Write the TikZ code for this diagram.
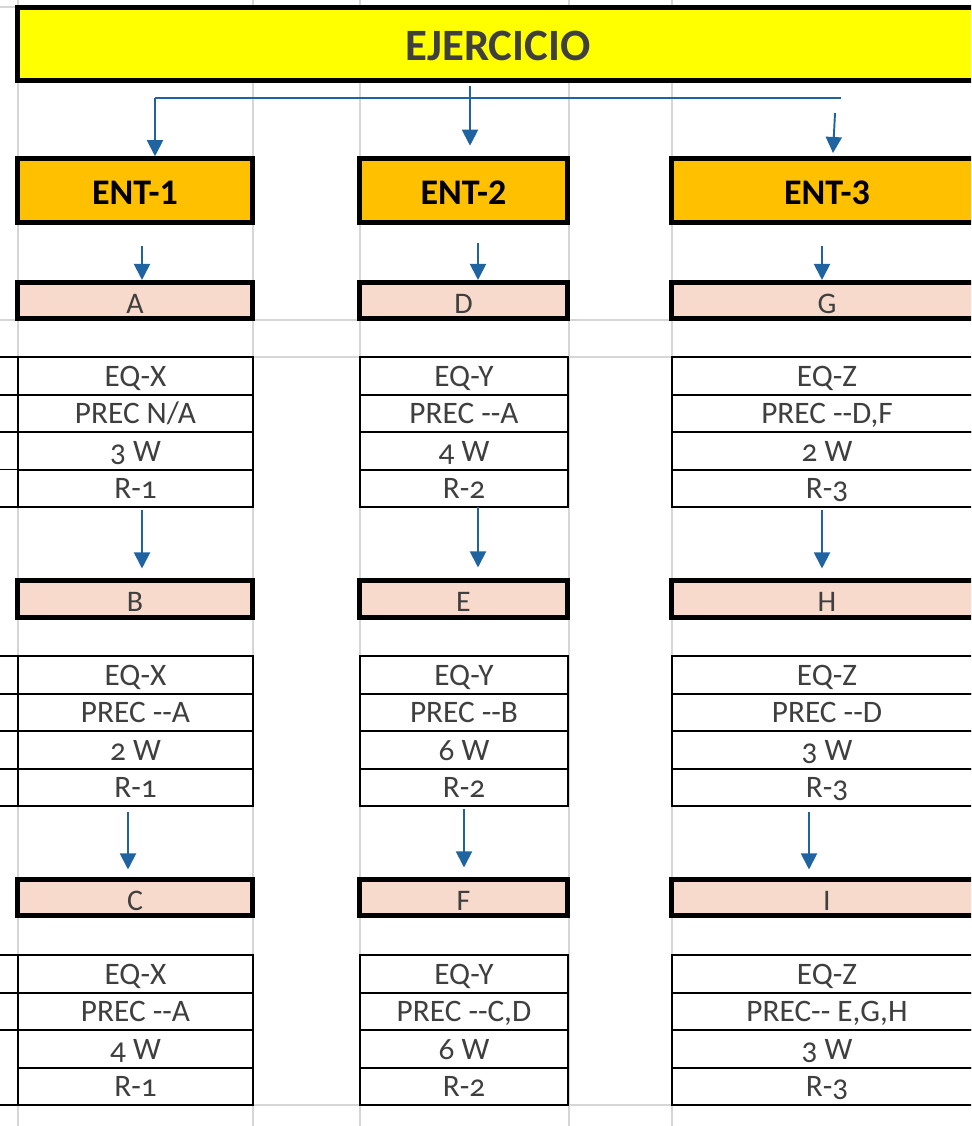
\documentclass[tikz,border=0pt]{standalone}
\usepackage{fontspec}
\setmainfont{Carlito}[Ligatures=TeXOff,Numbers=OldStyle]
\newfontfamily\entfont{Carlito}[Ligatures=TeXOff,Numbers=Lining]
\usepackage{tikz}
\usetikzlibrary{arrows.meta}
\definecolor{sunyellow}{HTML}{FFFF00}
\definecolor{entorange}{HTML}{FFC000}
\definecolor{taskpink}{HTML}{F8DACD}
\definecolor{flowblue}{HTML}{1F64A0}
\definecolor{inkgray}{HTML}{3F3F3F}
\definecolor{gridgray}{HTML}{D6D6D6}

\begin{document}
\begin{tikzpicture}[x=0.02cm,y=-0.02cm,
  titlebox/.style={rectangle,draw=black,line width=2.6pt,fill=sunyellow,minimum width=19.23cm,minimum height=1.46cm,inner sep=0pt,text height=18.7pt,text depth=0pt,font=\fontsize{25.5}{30}\selectfont\bfseries,text=inkgray},
  entbox/.style={rectangle,draw=black,line width=2.6pt,fill=entorange,minimum height=1.28cm,inner sep=0pt,text height=15.5pt,text depth=0pt,font=\entfont\fontsize{20.5}{24}\selectfont\bfseries},
  taskbox/.style={rectangle,draw=black,line width=2.6pt,fill=taskpink,minimum height=0.73cm,inner sep=0pt,text height=14.5pt,text depth=0pt,font=\fontsize{17}{20}\selectfont,text=inkgray},
  cellbox/.style={rectangle,draw=black,line width=1.1pt,minimum height=0.75cm,inner sep=0pt,text height=11.6pt,text depth=0pt,font=\fontsize{17.8}{21}\selectfont,text=inkgray},
  flow/.style={-{Triangle[length=0.32cm,width=0.32cm]},flowblue,line width=1.1pt},
  gridline/.style={gridgray,line width=0.6pt}]
\useasboundingbox (0,0) rectangle (971,1126);
\clip (0,0) rectangle (971,1126);
\fill[white] (0,0) rectangle (971,1126);
% sheet grid
\foreach \gx in {18,253,360,569,672} \draw[gridline] (\gx,0) -- (\gx,1126);
\foreach \gy in {320,357,1105} \draw[gridline] (0,\gy) -- (971,\gy);
\draw[gridline] (0,7) -- (18,7);
\foreach \gy in {357,395,432,469.5,507,656,694,731,769,806,955,993,1030,1105} \draw[black,line width=1.1pt] (0,\gy) -- (18,\gy);

\node[titlebox] (ej) at (498,44) {EJERCICIO};

\node[entbox,minimum width=4.7cm] (ent1) at (135,190.5) {ENT-1};
\node[entbox,minimum width=4.16cm] (ent2) at (463.5,190.5) {ENT-2};
\node[entbox,minimum width=6.22cm] (ent3) at (827,190.5) {ENT-3};

% first row of tasks
\node[taskbox,minimum width=4.7cm] (ta) at (135,300.5) {A};
\node[taskbox,minimum width=4.16cm] (td) at (463.5,300.5) {D};
\node[taskbox,minimum width=6.22cm] (tg) at (827,300.5) {G};

\node[cellbox,minimum width=4.7cm] (aeq) at (135.5,376) {EQ-X};
\node[cellbox,minimum width=4.7cm] (apre) at (135.5,413.5) {PREC N/A};
\node[cellbox,minimum width=4.7cm] (adur) at (135.5,451) {3 W};
\node[cellbox,minimum width=4.7cm] (ares) at (135.5,488.5) {R-1};
\node[cellbox,minimum width=4.16cm] (deq) at (464,376) {EQ-Y};
\node[cellbox,minimum width=4.16cm] (dpre) at (464,413.5) {PREC --A};
\node[cellbox,minimum width=4.16cm] (ddur) at (464,451) {4 W};
\node[cellbox,minimum width=4.16cm] (dres) at (464,488.5) {R-2};
\node[cellbox,minimum width=6.2cm] (geq) at (827,376) {EQ-Z};
\node[cellbox,minimum width=6.2cm] (gpre) at (827,413.5) {PREC --D,F};
\node[cellbox,minimum width=6.2cm] (gdur) at (827,451) {2 W};
\node[cellbox,minimum width=6.2cm] (gres) at (827,488.5) {R-3};

% second row of tasks
\node[taskbox,minimum width=4.7cm] (tb) at (135,599) {B};
\node[taskbox,minimum width=4.16cm] (te) at (463.5,599) {E};
\node[taskbox,minimum width=6.22cm] (th) at (827,599) {H};

\node[cellbox,minimum width=4.7cm] (beq) at (135.5,675) {EQ-X};
\node[cellbox,minimum width=4.7cm] (bpre) at (135.5,712.5) {PREC --A};
\node[cellbox,minimum width=4.7cm] (bdur) at (135.5,750) {2 W};
\node[cellbox,minimum width=4.7cm] (bres) at (135.5,787.5) {R-1};
\node[cellbox,minimum width=4.16cm] (eeq) at (464,675) {EQ-Y};
\node[cellbox,minimum width=4.16cm] (epre) at (464,712.5) {PREC --B};
\node[cellbox,minimum width=4.16cm] (edur) at (464,750) {6 W};
\node[cellbox,minimum width=4.16cm] (eres) at (464,787.5) {R-2};
\node[cellbox,minimum width=6.2cm] (heq) at (827,675) {EQ-Z};
\node[cellbox,minimum width=6.2cm] (hpre) at (827,712.5) {PREC --D};
\node[cellbox,minimum width=6.2cm] (hdur) at (827,750) {3 W};
\node[cellbox,minimum width=6.2cm] (hres) at (827,787.5) {R-3};

% third row of tasks
\node[taskbox,minimum width=4.7cm] (tc) at (135,897.5) {C};
\node[taskbox,minimum width=4.16cm] (tf) at (463.5,897.5) {F};
\node[taskbox,minimum width=6.22cm] (ti) at (827,897.5) {I};

\node[cellbox,minimum width=4.7cm] (ceq) at (135.5,974) {EQ-X};
\node[cellbox,minimum width=4.7cm] (cpre) at (135.5,1011.5) {PREC --A};
\node[cellbox,minimum width=4.7cm] (cdur) at (135.5,1049) {4 W};
\node[cellbox,minimum width=4.7cm] (cres) at (135.5,1086.5) {R-1};
\node[cellbox,minimum width=4.16cm] (feq) at (464,974) {EQ-Y};
\node[cellbox,minimum width=4.16cm] (fpre) at (464,1011.5) {PREC --C,D};
\node[cellbox,minimum width=4.16cm] (fdur) at (464,1049) {6 W};
\node[cellbox,minimum width=4.16cm] (fres) at (464,1086.5) {R-2};
\node[cellbox,minimum width=6.2cm] (ieq) at (827,974) {EQ-Z};
\node[cellbox,minimum width=6.2cm] (ipre) at (827,1011.5) {PREC-- E,G,H};
\node[cellbox,minimum width=6.2cm] (idur) at (827,1049) {3 W};
\node[cellbox,minimum width=6.2cm] (ires) at (827,1086.5) {R-3};

% connectors
\coordinate (hub) at (470,86);
\coordinate (brl) at (155,98);
\coordinate (brr) at (841,98);
\coordinate (r3a) at (835,113);
\coordinate (r3b) at (833,153);
\draw[flowblue,line width=1.1pt] (brl) -- (brr);
\draw[flow] (brl) -- (brl |- ent1.north);
\draw[flow,shorten >=0.21cm] (hub) -- (hub |- ent2.north);
\draw[flow] (r3a) -- (r3b);

\coordinate (d1) at (142,246);
\coordinate (d2) at (478,243);
\coordinate (d3) at (822,246);
\draw[flow] (d1) -- (d1 |- ta.north);
\draw[flow] (d2) -- (d2 |- td.north);
\draw[flow] (d3) -- (d3 |- tg.north);

\coordinate (e1) at (142,510);
\coordinate (e2) at (478,507);
\coordinate (e3) at (822,510);
\draw[flow,shorten >=0.2cm] (e1) -- (e1 |- tb.north);
\draw[flow,shorten >=0.22cm] (e2) -- (e2 |- te.north);
\draw[flow,shorten >=0.2cm] (e3) -- (e3 |- th.north);

\coordinate (f1) at (128,812);
\coordinate (f2) at (464,809);
\coordinate (f3) at (809,812);
\draw[flow,shorten >=0.15cm] (f1) -- (f1 |- tc.north);
\draw[flow,shorten >=0.19cm] (f2) -- (f2 |- tf.north);
\draw[flow,shorten >=0.15cm] (f3) -- (f3 |- ti.north);
\end{tikzpicture}
\end{document}
